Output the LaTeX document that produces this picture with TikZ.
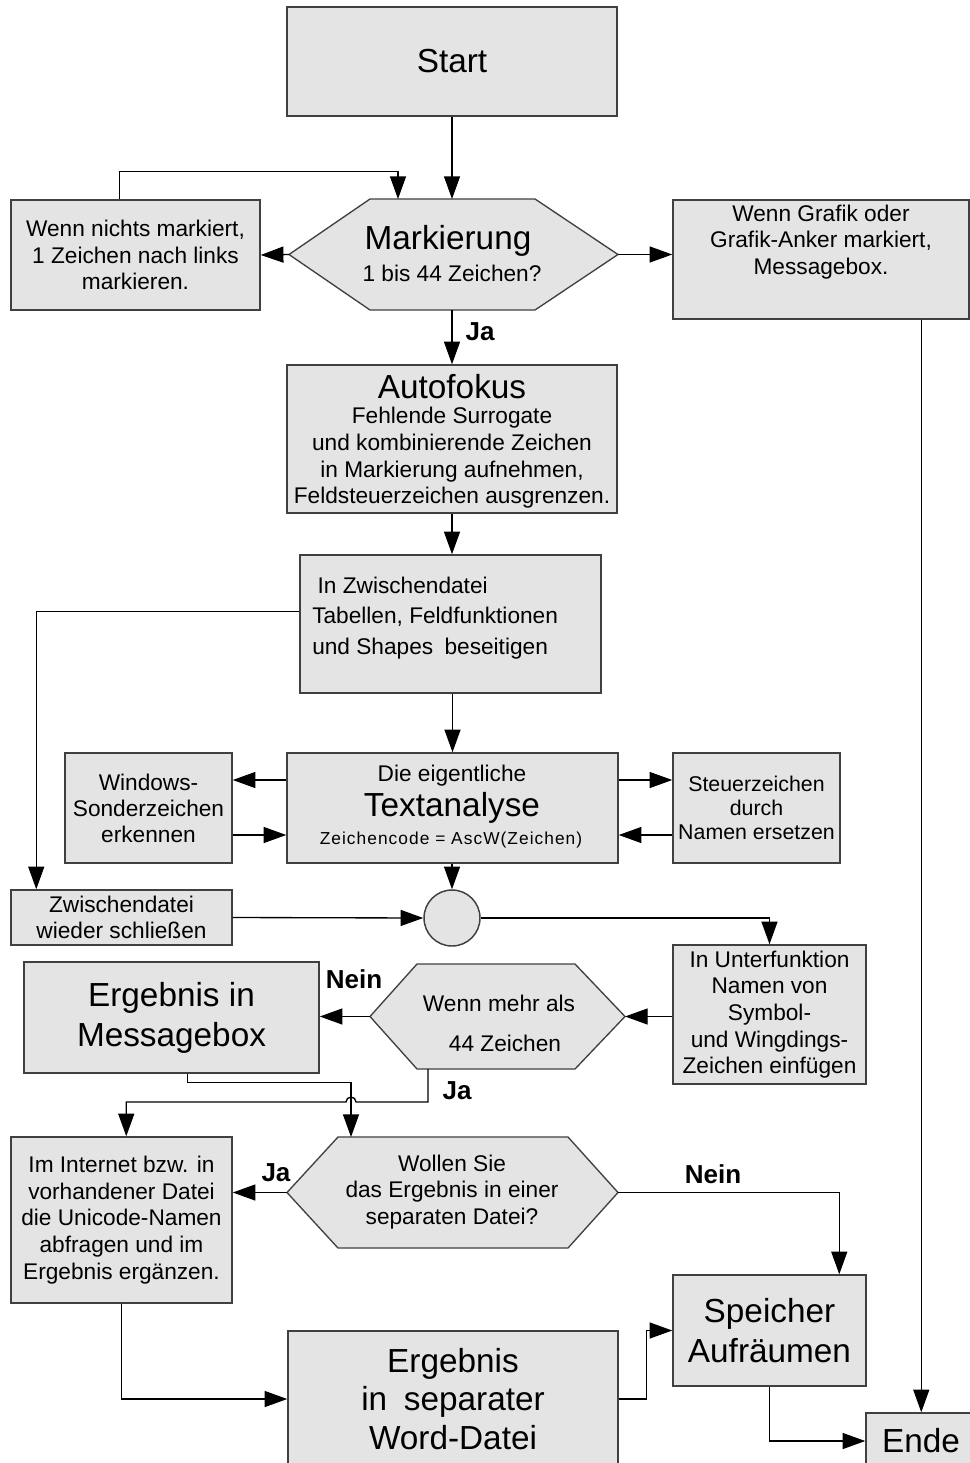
\documentclass[tikz,border=0pt]{standalone}
\usepackage{fontspec}
\setmainfont{Liberation Sans}
\usetikzlibrary{arrows.meta,calc}
\definecolor{boxfill}{RGB}{228,228,228}
\definecolor{boxline}{RGB}{64,64,64}
\newcommand{\fbody}{\fontsize{17}{20}\selectfont}
\newcommand{\fbig}{\fontsize{25}{30}\selectfont}
\newcommand{\flab}{\fontsize{19.5}{22}\selectfont\bfseries}
\newcommand{\fsmall}{\fontsize{13}{15}\selectfont\addfontfeature{LetterSpace=6}}
% box: name, x1, y1, x2, y2, text (pixel coordinates)
\newcommand{\bx}[7][]{\node[box,#1,minimum width={(#5-#3)*0.75pt},minimum height={(#6-#4)*0.75pt}] (#2) at ({(#3+#5)/2},{(#4+#6)/2}) {#7};}
% invisible frame for hexagon
\newcommand{\hx}[5]{\node[hexframe,minimum width={(#4-#2)*0.75pt},minimum height={(#5-#3)*0.75pt}] (#1) at ({(#2+#4)/2},{(#3+#5)/2}) {};}
\newcommand{\myhex}[3]{\filldraw[hexline] (#1.west) -- ($(#1.north west)+(#2,0)$) -- ($(#1.north east)+(-#3,0)$) -- (#1.east) -- ($(#1.south east)+(-#3,0)$) -- ($(#1.south west)+(#2,0)$) -- cycle;}
\begin{document}
\begin{tikzpicture}[x=0.75pt,y=-0.75pt,
  box/.style={draw=boxline,fill=boxfill,line width=1.1pt,inner sep=0pt,align=center,font=\fbody},
  hexframe/.style={draw=none,inner sep=0pt,outer sep=0pt},
  hexline/.style={draw=boxline,fill=boxfill,line width=1pt},
  txt/.style={inner sep=0pt,align=center},
  lab/.style={inner sep=0pt,font=\flab},
  arr/.style={line width=1pt,-{Triangle[length=17pt,width=12pt]}},
  ]
\useasboundingbox (0,0) rectangle (970,1463);
\fill[white] (0,0) rectangle (970,1463);
\clip (0,0) rectangle (970,1463);

% boxes
\bx[font=\fbig]{start}{287}{7}{617}{116}{Start}
\bx{wl}{11}{200}{260}{310}{Wenn nichts markiert,\\1 Zeichen nach links\\markieren.}
\bx{gr}{673}{200}{969}{319}{}
\bx{af}{287}{365}{617}{513}{}
\bx{zw}{300}{555}{601}{693}{}
\bx{ta}{287}{753}{618}{863}{}
\bx[font={\fontsize{17}{19.5}\selectfont}]{win}{65}{753}{232}{863}{Windows-\\Sonderzeichen\\erkennen}
\bx[font={\fontsize{16}{18}\selectfont}]{st}{673}{753}{840}{863}{Steuerzeichen\\durch\\Namen ersetzen}
\bx{zs}{11}{890}{232}{945}{Zwischendatei\\wieder schließen}
\bx{uf}{673}{945}{866}{1084}{In Unterfunktion\\Namen von\\Symbol-\\und Wingdings-\\Zeichen einfügen}
\bx[font=\fbig]{mb}{24}{962}{319}{1073}{Ergebnis in\\Messagebox}
\bx{in}{11}{1137}{232}{1303}{Im Internet bzw. in\\vorhandener Datei\\die Unicode-Namen\\abfragen und im\\Ergebnis ergänzen.}
\bx[font={\fontsize{25}{29}\selectfont}]{wd}{288}{1331}{618}{1467}{Ergebnis\\in\enspace separater\\Word-Datei}
\bx[font=\fbig]{sp}{673}{1275}{866}{1386}{Speicher\\Aufräumen}
\bx[font=\fbig]{ende}{866}{1413}{976}{1469}{Ende}

% hexagons
\hx{mk}{289}{199}{618}{310}
\myhex{mk}{81}{83}
\hx{h2}{370}{964}{625}{1069}
\myhex{h2}{47}{50}
\hx{wo}{287}{1137}{618}{1248}
\myhex{wo}{51}{50}

% circle
\node[draw=boxline,fill=boxfill,line width=1.1pt,circle,inner sep=0pt,minimum size=42pt] (c) at (452,918) {};

% texts
\node[txt,font=\fbig] (mkt1) at (448,241) {Markierung};
\node[txt,font=\fbody] (mkt2) at (452,273) {1 bis 44 Zeichen?};
\node[txt,font=\fbody] (grt) at (821,242) {Wenn Grafik oder\\Grafik-Anker markiert,\\Messagebox.};
\node[txt,font=\fbig] (aft1) at (452,387) {Autofokus};
\node[txt,font=\fbody] (aft2) at (452,458) {Fehlende Surrogate\\und kombinierende Zeichen\\in Markierung aufnehmen,\\Feldsteuerzeichen ausgrenzen.};
\node[txt,font={\fontsize{17}{23}\selectfont},align=left,anchor=west] (zwt) at (312,618) {\hspace*{4pt}In Zwischendatei\\Tabellen, Feldfunktionen\\und Shapes\enspace beseitigen};
\node[txt,font=\fbody] (tat1) at (452,776) {Die eigentliche};
\node[txt,font=\fbig] (tat2) at (452,808) {Textanalyse};
\node[txt,font=\fsmall] (tat3) at (451,840) {Zeichencode = AscW(Zeichen)};
\node[txt,font=\fbody] (h2t1) at (499,1003) {Wenn mehr als};
\node[txt,font=\fbody] (h2t2) at (505,1043) {44 Zeichen};
\node[txt,font=\fbody] (wot) at (452,1192) {Wollen Sie\\das Ergebnis in einer\\separaten Datei?};

% labels
\node[lab] (ja1) at (480,332) {Ja};
\node[lab] (nein1) at (354,979) {Nein};
\node[lab] (ja2) at (457,1091) {Ja};
\node[lab] (ja3) at (276,1173) {Ja};
\node[lab] (nein2) at (713,1174) {Nein};

% connectors
\draw[arr] (start.south) -- (start.south |- mk.north);
\draw[arr] ($(wl.north west)+(109,0)$) -- ++(0,-28) -| ($(mk.north west)+(109,0)$);
\draw[arr] (mk.west) -- (wl.east);
\draw[arr] (mk.east) -- (mk.east -| gr.west);
\coordinate (g1) at ($(gr.south west)+(249,0)$);
\draw[arr] (g1) -- (g1 |- ende.north);
\draw[arr] (af.north |- mk.south) -- (af.north);
\draw[arr] (af.south) -- (af.south |- zw.north);
\draw[arr] (ta.north |- zw.south) -- (ta.north);
\coordinate (z1) at ($(zw.north west)+(0,57)$);
\coordinate (z2) at ($(zs.north west)+(26,0)$);
\draw[arr] (z1) -| (z2);
\draw[arr] ([yshift=21pt]ta.west) -- ([yshift=21pt]win.east);
\draw[arr] ([yshift=-20.25pt]win.east) -- ([yshift=-20.25pt]ta.west);
\draw[arr] ([yshift=21pt]ta.east) -- ([yshift=21pt]st.west);
\draw[arr] ([yshift=-20.25pt]st.west) -- ([yshift=-20.25pt]ta.east);
\draw[arr] (c.north |- ta.south) -- (c.north);
\draw[arr] (zs.east) -- (c.west);
\draw[arr] (c.east) -| (uf.north);
\draw[arr] (h2.east -| uf.west) -- (h2.east);
\draw[arr] (h2.west) -- (h2.west -| mb.east);
\coordinate (m1) at ($(mb.south west)+(164,0)$);
\coordinate (w1) at ($(wo.north west)+(64,0)$);
\draw[arr] (m1) -- ++(0,9) -| (w1);
\coordinate (h1) at ($(h2.south west)+(58,0)$);
\coordinate (i1) at ($(in.north west)+(116,0)$);
\draw[arr] (h1) |- ($(w1)+(5,-35)$) arc[start angle=0,end angle=180,radius=3.75pt] -| (i1);
\draw[arr] (wo.west) -- (wo.west -| in.east);
\coordinate (s1) at ($(sp.north west)+(167,0)$);
\draw[arr] (wo.east) -| (s1);
\draw[arr] (in.south) |- (wd.west);
\draw[arr] (wd.east) -- ++(28,0) |- (sp.west);
\draw[arr] (sp.south) |- (ende.west);
\end{tikzpicture}
\end{document}
